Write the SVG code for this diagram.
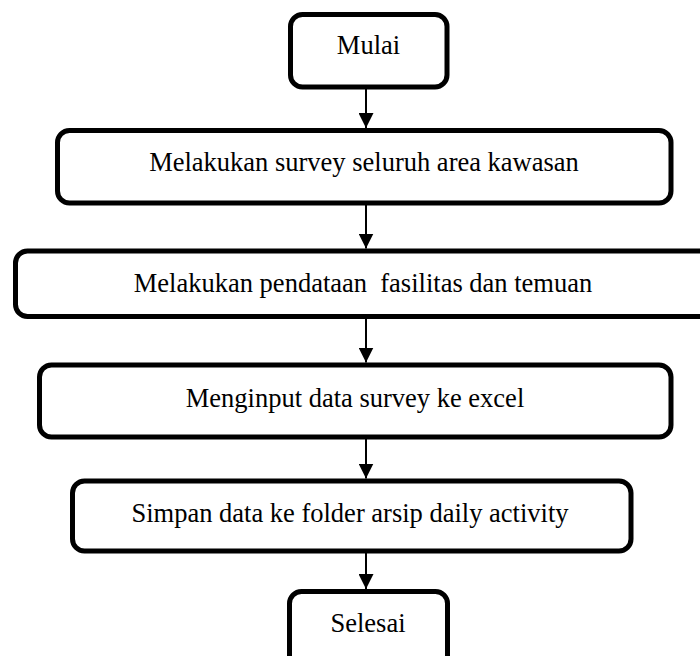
<svg xmlns="http://www.w3.org/2000/svg" width="700" height="656" viewBox="0 0 700 656">
<defs>
<style>
.box{fill:#ffffff;stroke:#000000;stroke-width:5}
.lbl{font-family:"Liberation Serif","Times New Roman",serif;font-size:26.5px;fill:#000000;text-anchor:middle}
.conn{stroke:#000000;stroke-width:2;fill:none}
</style>
<marker id="arr" viewBox="0 0 10 10" refX="10" refY="5" markerWidth="7.5" markerHeight="7.5" markerUnits="strokeWidth" orient="auto">
<path d="M0,0 L10,5 L0,10 Z" fill="#000000"/>
</marker>
</defs>
<rect width="700" height="656" fill="#ffffff"/>
<g id="connectors">
<line class="conn" x1="366" y1="89" x2="366" y2="128" marker-end="url(#arr)"/>
<line class="conn" x1="366" y1="205" x2="366" y2="248.5" marker-end="url(#arr)"/>
<line class="conn" x1="366" y1="318.5" x2="366" y2="362.5" marker-end="url(#arr)"/>
<line class="conn" x1="366" y1="439" x2="366" y2="478.5" marker-end="url(#arr)"/>
<line class="conn" x1="366" y1="553" x2="366" y2="589" marker-end="url(#arr)"/>
</g>
<g id="mulai">
<rect class="box" x="290.5" y="14.5" width="156.5" height="72.5" rx="12"/>
<text class="lbl" x="368.5" y="54">Mulai</text>
</g>
<g id="survey">
<rect class="box" x="57.5" y="130.5" width="613.5" height="72.5" rx="12"/>
<text class="lbl" x="364" y="171">Melakukan survey seluruh area kawasan</text>
</g>
<g id="pendataan">
<rect class="box" x="15.5" y="251" width="720" height="65.5" rx="12"/>
<text class="lbl" x="363" y="292" xml:space="preserve">Melakukan pendataan  fasilitas dan temuan</text>
</g>
<g id="input">
<rect class="box" x="39.5" y="365" width="631.5" height="72" rx="12"/>
<text class="lbl" x="355" y="407">Menginput data survey ke excel</text>
</g>
<g id="simpan">
<rect class="box" x="72.5" y="481" width="558.5" height="70" rx="12"/>
<text class="lbl" x="350" y="522">Simpan data ke folder arsip daily activity</text>
</g>
<g id="selesai">
<rect class="box" x="289.5" y="591.5" width="158" height="80" rx="12"/>
<text class="lbl" x="368" y="632">Selesai</text>
</g>
</svg>
